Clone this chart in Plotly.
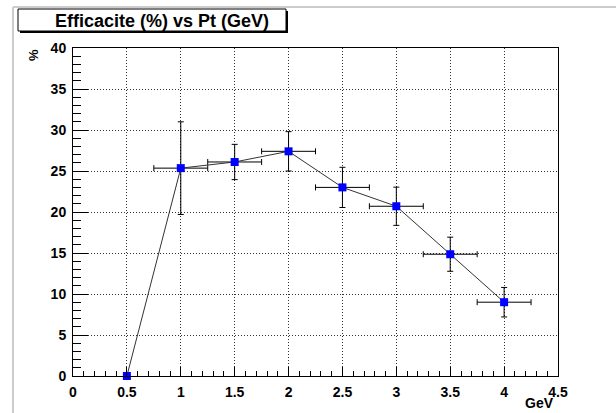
import plotly.graph_objects as go

# Data
pt = [0.5, 1.0, 1.5, 2.0, 2.5, 3.0, 3.5, 4.0]
eff = [0.0, 25.35, 26.1, 27.4, 23.0, 20.7, 14.85, 9.0]
eff_err = [0.0, 5.65, 2.15, 2.4, 2.45, 2.33, 2.08, 1.8]
pt_err = [0.0, 0.25, 0.25, 0.25, 0.25, 0.25, 0.25, 0.25]

title_text = "Efficacite (%) vs Pt (GeV)"
x_title = "GeV"
y_title = "%"

W, H = 616, 413
L, R, T, B = 73, 558, 48, 376  # frame in pixels


def px(xp):
    return (xp - L) / (R - L)


def py(yp):
    return (B - yp) / (B - T)


FONT = "Liberation Sans, Arial, Helvetica, sans-serif"
GRID_DASH = "1px,2px"

fig = go.Figure()
fig.add_trace(go.Scatter(
    x=pt, y=eff,
    mode="lines+markers",
    line=dict(color="#333333", width=1),
    marker=dict(symbol="square", size=8, color="#0000ff", line=dict(width=0)),
    error_y=dict(type="data", array=eff_err, visible=True, color="#000000", thickness=1, width=3),
    error_x=dict(type="data", array=pt_err, visible=True, color="#000000", thickness=1, width=3),
    showlegend=False,
    cliponaxis=False,
    hoverinfo="skip",
))

fig.update_layout(
    width=W, height=H,
    margin=dict(l=L, r=W - R, t=T, b=H - B, pad=0),
    paper_bgcolor="white", plot_bgcolor="white",
    font=dict(family=FONT, color="black"),
    xaxis=dict(
        range=[0, 4.5], dtick=0.5, tick0=0,
        showline=True, linecolor="black", linewidth=1, mirror=True,
        ticks="inside", ticklen=9, tickcolor="black", tickwidth=1,
        minor=dict(ticks="inside", ticklen=5, dtick=0.1, tick0=0, tickcolor="black", showgrid=False),
        showgrid=True, gridcolor="#333333", griddash=GRID_DASH, gridwidth=1,
        zeroline=False,
        tickfont=dict(family=FONT, size=14, weight="bold"),
        ticklabelstandoff=3,
    ),
    yaxis=dict(
        range=[0, 40], dtick=5, tick0=0,
        showline=True, linecolor="black", linewidth=1, mirror=True,
        ticks="inside", ticklen=15, tickcolor="black", tickwidth=1,
        minor=dict(ticks="inside", ticklen=8, dtick=1, tick0=0, tickcolor="black", showgrid=False),
        showgrid=True, gridcolor="#333333", griddash=GRID_DASH, gridwidth=1,
        zeroline=False,
        tickfont=dict(family=FONT, size=14, weight="bold"),
        ticklabelstandoff=3,
    ),
    shapes=[
        # canvas border (light gray)
        dict(type="line", xref="paper", yref="paper", x0=px(13), x1=px(13), y0=py(7), y1=py(413),
             line=dict(color="#cccccc", width=2)),
        dict(type="line", xref="paper", yref="paper", x0=px(13), x1=px(616), y0=py(7), y1=py(7),
             line=dict(color="#cccccc", width=2)),
        # title box shadow
        dict(type="rect", xref="paper", yref="paper", x0=px(20), x1=px(288), y0=py(33), y1=py(11),
             fillcolor="black", line=dict(width=0)),
        # title box
        dict(type="rect", xref="paper", yref="paper", x0=px(18), x1=px(286), y0=py(31), y1=py(9),
             fillcolor="white", line=dict(color="black", width=1)),
    ],
    annotations=[
        dict(text=title_text, xref="paper", yref="paper", x=px(162), y=py(20.5),
             showarrow=False, xanchor="center", yanchor="middle",
             font=dict(family=FONT, size=18, weight="bold", color="black")),
        dict(text=x_title, xref="paper", yref="paper", x=px(556), y=py(403),
             showarrow=False, xanchor="right", yanchor="middle",
             font=dict(family=FONT, size=14, weight="bold", color="black")),
        dict(text=y_title, xref="paper", yref="paper", x=px(33), y=py(55),
             showarrow=False, xanchor="center", yanchor="middle", textangle=-90,
             font=dict(family=FONT, size=13, weight="bold", color="black")),
    ],
)

fig.write_html(
    "out.html",
    config={"displayModeBar": False, "staticPlot": True},
    post_script="document.body.style.margin='0';document.body.style.overflow='hidden';",
)
